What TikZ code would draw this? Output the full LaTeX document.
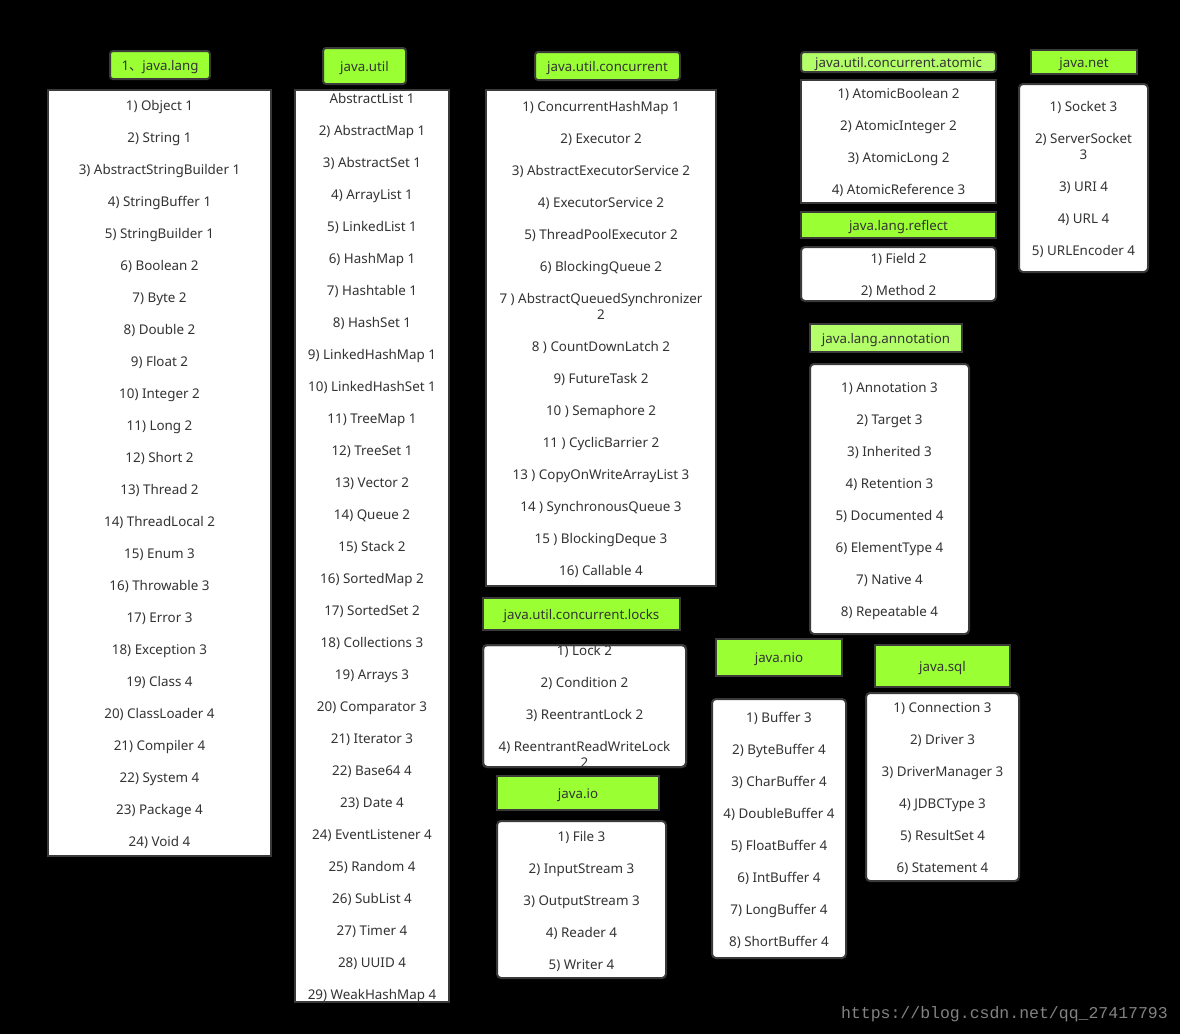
\documentclass[tikz,border=0pt]{standalone}
\usepackage{fontspec}
\setmainfont{Noto Sans}
\newfontfamily\cjk{Noto Sans CJK SC}
\newfontfamily\wmfont{Liberation Mono}
\definecolor{lime}{RGB}{154,255,51}
\definecolor{limelight}{RGB}{180,255,105}
\definecolor{bordergray}{RGB}{58,58,58}
\definecolor{textgray}{RGB}{51,51,51}
\definecolor{wmgray}{RGB}{130,130,130}
\tikzset{
  hdr/.style={draw=bordergray, line width=2pt, fill=lime, inner sep=0pt, text=textgray, font=\fontsize{13.3}{15}\selectfont, text height=10.5pt, text depth=0pt},
  hdrlight/.style={hdr, fill=limelight},
  lst/.style={draw=bordergray, line width=2pt, fill=white, inner sep=0pt},
  twoline/.style={text=textgray, inner sep=0pt, align=center, yshift=-2pt, font=\fontsize{13.4}{16}\selectfont},
  item/.style={twoline, text height=10.2pt, text depth=3.2pt},
}
\begin{document}
\begin{tikzpicture}[x=1pt,y=-1pt]
\fill[black] (0,0) rectangle (1180,1034);
\useasboundingbox (0,0) rectangle (1180,1034);

% ---------- java.lang ----------
\node[hdr, rounded corners=3pt, minimum width=100pt, minimum height=28pt] (hlang) at (160,65) {1{\cjk 、}java.lang};
\node[lst, minimum width=223pt, minimum height=766pt] (blang) at (159.5,473) {};
\foreach \t [count=\i from 0] in {1) Object 1, 2) String 1, 3) AbstractStringBuilder 1, 4) StringBuffer 1, 5) StringBuilder 1, 6) Boolean 2, 7) Byte 2, 8) Double 2, 9) Float 2, 10) Integer 2, 11) Long 2, 12) Short 2, 13) Thread 2, 14) ThreadLocal 2, 15) Enum 3, 16) Throwable 3, 17) Error 3, 18) Exception 3, 19) Class 4, 20) ClassLoader 4, 21) Compiler 4, 22) System 4, 23) Package 4, 24) Void 4}
  \node[item] (lang\i) at (159.5,105+32*\i) {\t};

% ---------- java.util ----------
\node[hdr, rounded corners=3pt, minimum width=83pt, minimum height=36pt] (hutil) at (364.5,66) {java.util};
\node[lst, minimum width=154pt, minimum height=912pt] (butil) at (372,546) {};
\begin{scope}
\clip (296,91) rectangle (448,1001);
\foreach \t [count=\i from 0] in {AbstractList 1, 2) AbstractMap 1, 3) AbstractSet 1, 4) ArrayList 1, 5) LinkedList 1, 6) HashMap 1, 7) Hashtable 1, 8) HashSet 1, 9) LinkedHashMap 1, 10) LinkedHashSet 1, 11) TreeMap 1, 12) TreeSet 1, 13) Vector 2, 14) Queue 2, 15) Stack 2, 16) SortedMap 2, 17) SortedSet 2, 18) Collections 3, 19) Arrays 3, 20) Comparator 3, 21) Iterator 3, 22) Base64 4, 23) Date 4, 24) EventListener 4, 25) Random 4, 26) SubList 4, 27) Timer 4, 28) UUID 4, 29) WeakHashMap 4}
  \node[item] (util\i) at (372,98+32*\i) {\t};
\end{scope}
\draw[bordergray, line width=2pt] (295,90) rectangle (449,1002);

% ---------- java.util.concurrent ----------
\node[hdr, rounded corners=3pt, minimum width=145pt, minimum height=28pt] (hconc) at (607.5,66) {java.util.concurrent};
\node[lst, minimum width=230pt, minimum height=496pt] (bconc) at (601,338) {};
\foreach \y/\t [count=\i] in {106/{1) ConcurrentHashMap 1}, 138/{2) Executor 2}, 170/{3) AbstractExecutorService 2}, 202/{4) ExecutorService 2}, 234/{5) ThreadPoolExecutor 2}, 266/{6) BlockingQueue 2}, 346/{8 ) CountDownLatch 2}, 378/{9) FutureTask 2}, 410/{10 ) Semaphore 2}, 442/{11 ) CyclicBarrier 2}, 474/{13 ) CopyOnWriteArrayList 3}, 506/{14 ) SynchronousQueue 3}, 538/{15 ) BlockingDeque 3}, 570/{16) Callable 4}}
  \node[item] (conc\i) at (601,\y) {\t};
\node[twoline] (concaqs) at (601,304) {7 ) AbstractQueuedSynchronizer\\2};

% ---------- java.util.concurrent.atomic ----------
\node[hdrlight, rounded corners=3pt, minimum width=195pt, minimum height=20pt] (hatomic) at (898.5,62) {java.util.concurrent.atomic};
\node[lst, minimum width=195pt, minimum height=123pt] (batomic) at (898.5,141.5) {};
\foreach \t [count=\i from 0] in {1) AtomicBoolean 2, 2) AtomicInteger 2, 3) AtomicLong 2, 4) AtomicReference 3}
  \node[item] (atomic\i) at (898.5,93+32*\i) {\t};

% ---------- java.net ----------
\node[hdr, minimum width=106pt, minimum height=24pt] (hnet) at (1084,62) {java.net};
\node[lst, rounded corners=4pt, minimum width=129pt, minimum height=188pt] (bnet) at (1083.5,178) {};
\foreach \y/\t [count=\i] in {106/{1) Socket 3}, 186/{3) URI 4}, 218/{4) URL 4}, 250/{5) URLEncoder 4}}
  \node[item] (net\i) at (1083.5,\y) {\t};
\node[twoline] (netss) at (1083.5,144) {2) ServerSocket\\3};

% ---------- java.lang.reflect ----------
\node[hdr, minimum width=195pt, minimum height=26pt] (hreflect) at (898.5,225) {java.lang.reflect};
\node[lst, rounded corners=4pt, minimum width=195pt, minimum height=54pt] (breflect) at (898.5,274) {};
\node[item] (reflect1) at (898.5,258) {1) Field 2};
\node[item] (reflect2) at (898.5,290) {2) Method 2};

% ---------- java.lang.annotation ----------
\node[hdrlight, minimum width=152pt, minimum height=28pt] (hannot) at (886,338) {java.lang.annotation};
\node[lst, rounded corners=4pt, minimum width=159pt, minimum height=270pt] (bannot) at (889.5,499) {};
\foreach \t [count=\i from 0] in {1) Annotation 3, 2) Target 3, 3) Inherited 3, 4) Retention 3, 5) Documented 4, 6) ElementType 4, 7) Native 4, 8) Repeatable 4}
  \node[item] (annot\i) at (889.5,387+32*\i) {\t};

% ---------- java.util.concurrent.locks ----------
\node[hdr, minimum width=197pt, minimum height=32pt] (hlocks) at (581.5,614) {java.util.concurrent.locks};
\node[lst, rounded corners=4pt, minimum width=203pt, minimum height=122pt] (blocks) at (584.5,706) {};
\begin{scope}
\clip (484,646) rectangle (685,766);
\foreach \y/\t [count=\i] in {650/{1) Lock 2}, 682/{2) Condition 2}, 714/{3) ReentrantLock 2}}
  \node[item] (locks\i) at (584.5,\y) {\t};
\node[twoline] (locksrrw) at (584.5,752) {4) ReentrantReadWriteLock\\2};
\end{scope}
\draw[bordergray, line width=2pt, rounded corners=4pt] (483,645) rectangle (686,767);

% ---------- java.io ----------
\node[hdr, minimum width=162pt, minimum height=34pt] (hio) at (578,793) {java.io};
\node[lst, rounded corners=4pt, minimum width=169pt, minimum height=157pt] (bio) at (581.5,899.5) {};
\foreach \t [count=\i from 0] in {1) File 3, 2) InputStream 3, 3) OutputStream 3, 4) Reader 4, 5) Writer 4}
  \node[item] (io\i) at (581.5,836+32*\i) {\t};

% ---------- java.nio ----------
\node[hdr, minimum width=126pt, minimum height=37pt] (hnio) at (779,657.5) {java.nio};
\node[lst, rounded corners=4pt, minimum width=134pt, minimum height=259pt] (bnio) at (779,828.5) {};
\foreach \t [count=\i from 0] in {1) Buffer 3, 2) ByteBuffer 4, 3) CharBuffer 4, 4) DoubleBuffer 4, 5) FloatBuffer 4, 6) IntBuffer 4, 7) LongBuffer 4, 8) ShortBuffer 4}
  \node[item] (nio\i) at (779,717+32*\i) {\t};

% ---------- java.sql ----------
\node[hdr, minimum width=135pt, minimum height=42pt] (hsql) at (942.5,666) {java.sql};
\node[lst, rounded corners=4pt, minimum width=153pt, minimum height=188pt] (bsql) at (942.5,787) {};
\foreach \t [count=\i from 0] in {1) Connection 3, 2) Driver 3, 3) DriverManager 3, 4) JDBCType 3, 5) ResultSet 4, 6) Statement 4}
  \node[item] (sql\i) at (942.5,707+32*\i) {\t};

% ---------- watermark ----------
\node[text=wmgray, inner sep=0pt, anchor=east, font=\wmfont\fontsize{16.5}{18}\selectfont] (wm) at (1168,1014) {https://blog.csdn.net/qq\_27417793};
\end{tikzpicture}
\end{document}
